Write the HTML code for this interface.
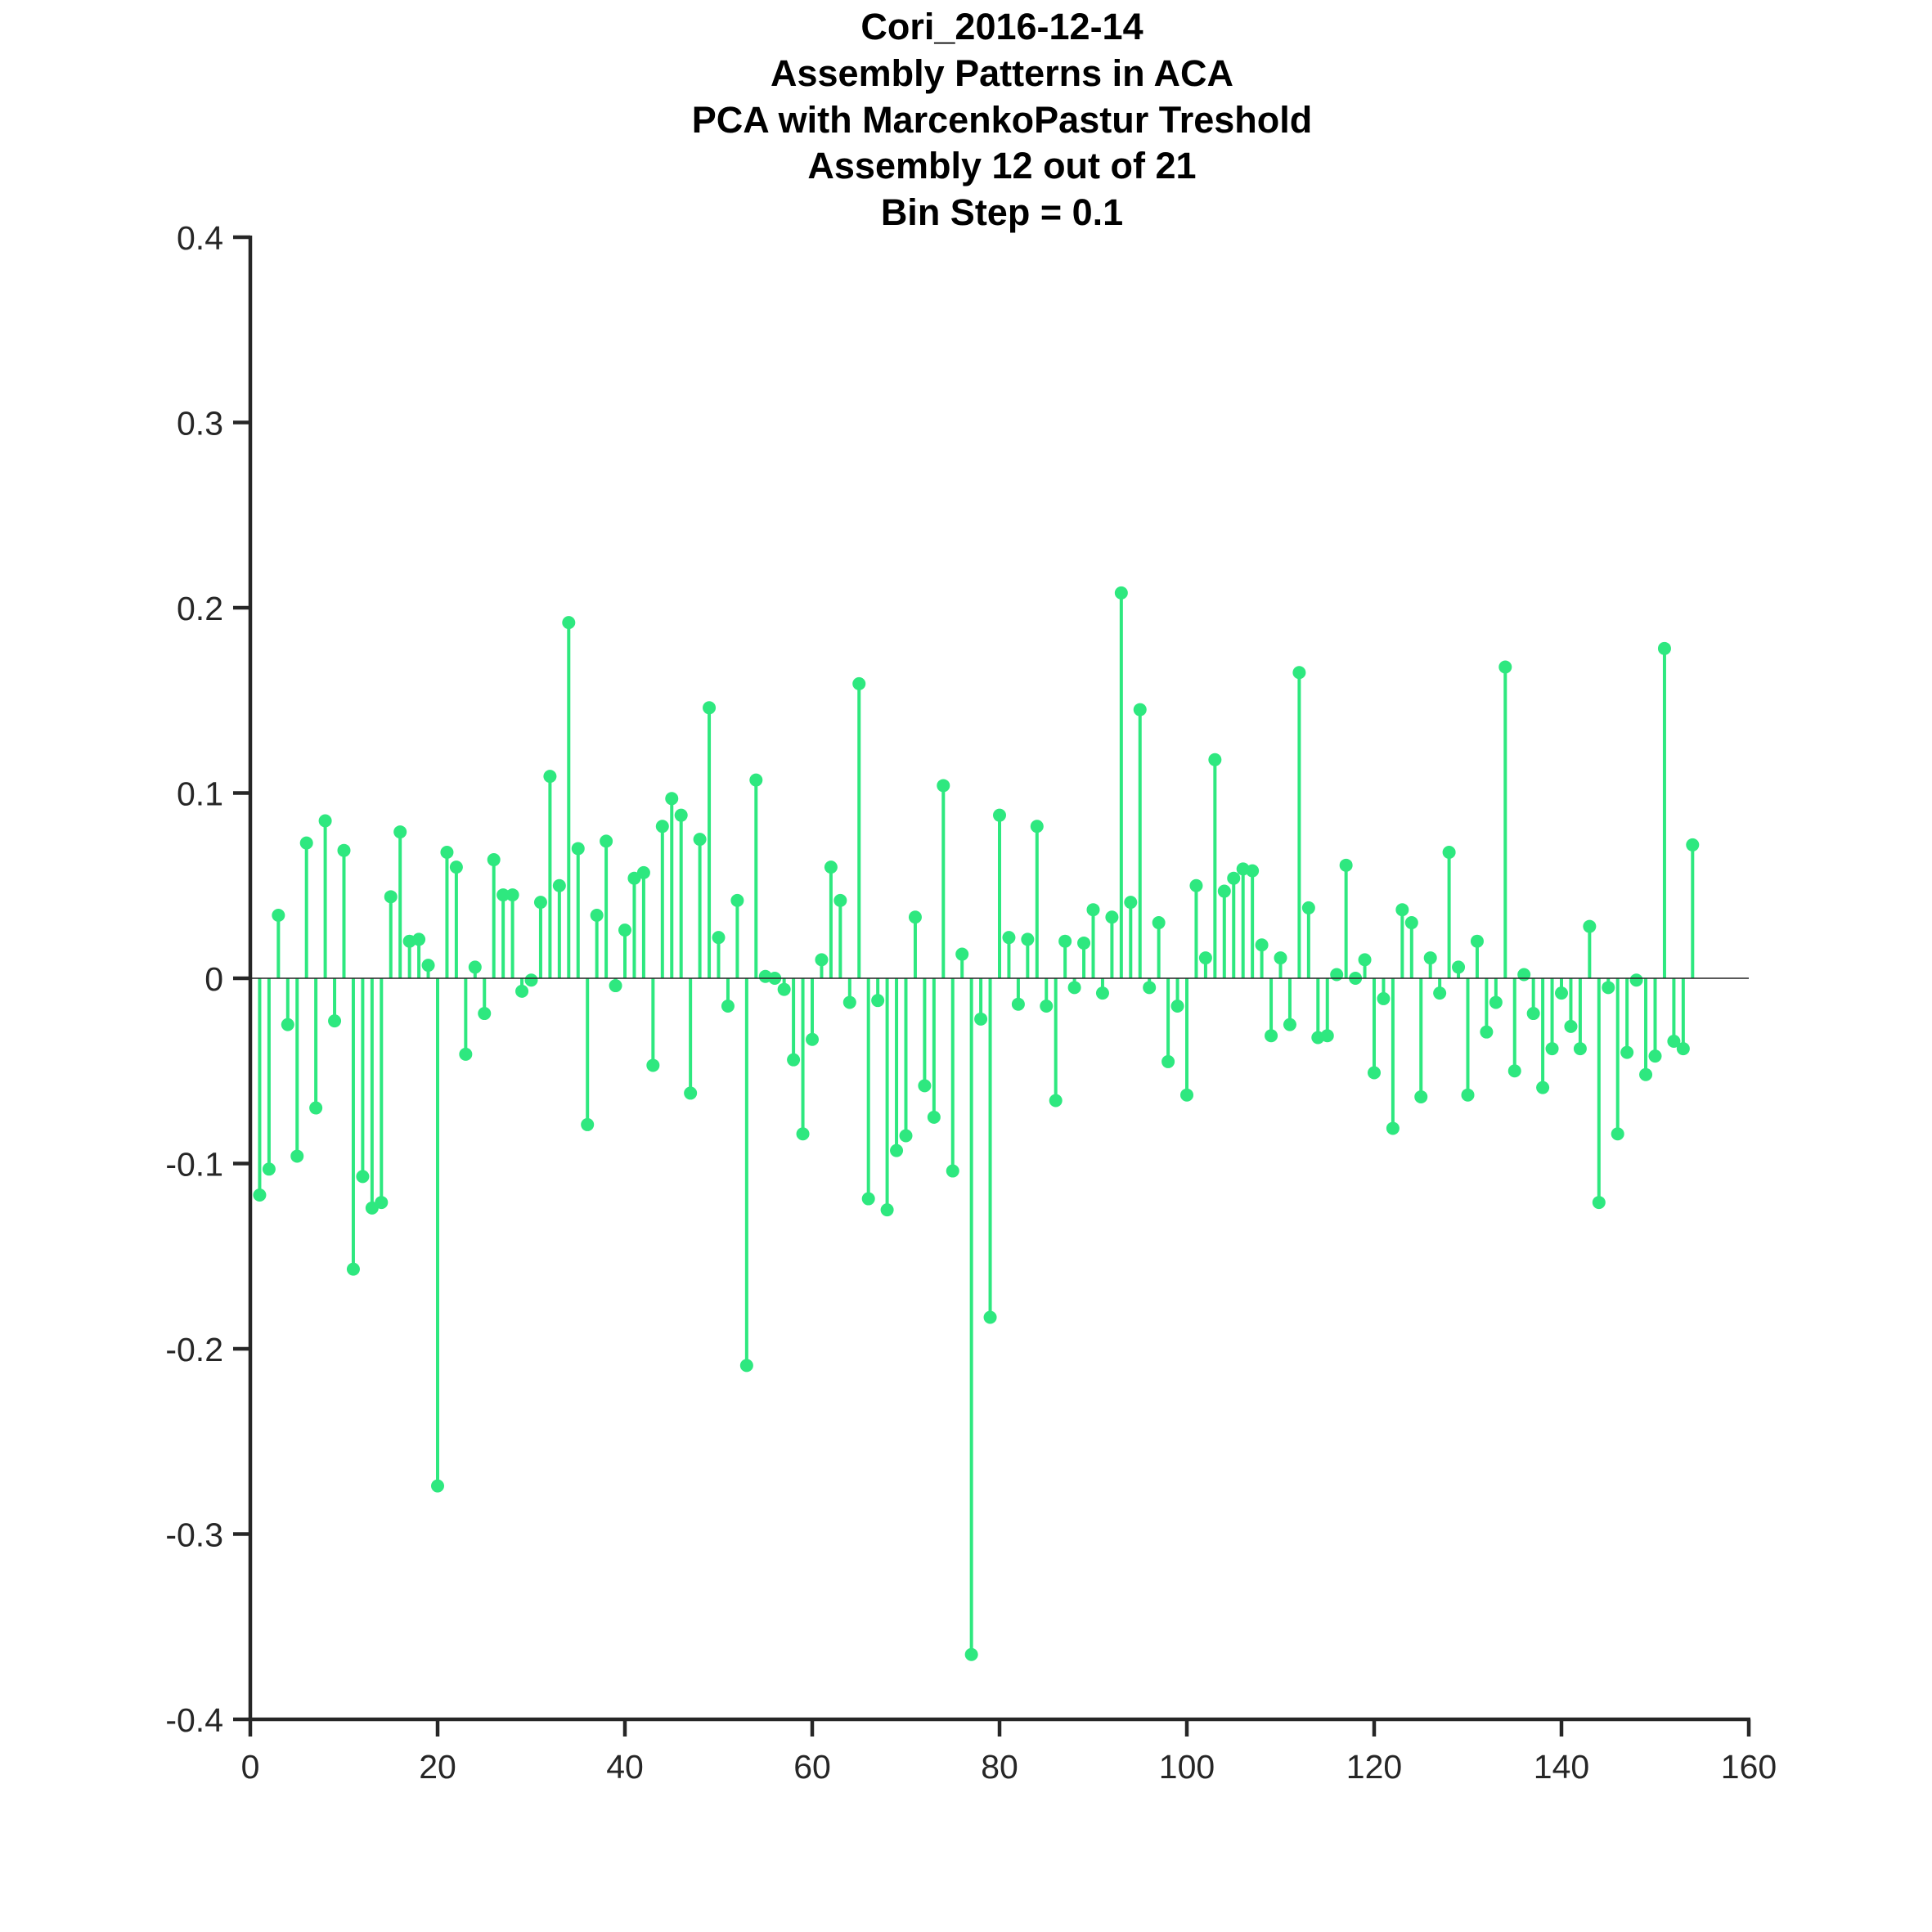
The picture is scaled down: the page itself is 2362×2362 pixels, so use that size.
<!DOCTYPE html>
<html><head><meta charset="utf-8"><style>
html,body{margin:0;padding:0;background:#fff;}
svg{display:block;}
text{font-family:"Liberation Sans",Arial,sans-serif;fill:#262626;}
</style></head><body>
<svg id="chart" width="2362" height="2362" viewBox="0 0 2362 2362" xmlns="http://www.w3.org/2000/svg">
<g font-weight="bold" font-size="45" text-anchor="middle" style="fill:#000">
<text x="1225" y="48" style="fill:#000">Cori_2016-12-14</text>
<text x="1225" y="105" style="fill:#000">Assembly Patterns in ACA</text>
<text x="1225" y="162" style="fill:#000">PCA with MarcenkoPastur Treshold</text>
<text x="1225" y="218" style="fill:#000">Assembly 12 out of 21</text>
<text x="1225" y="275" style="fill:#000">Bin Step = 0.1</text>
</g>
<g id="marks"></g>
<g id="axes"></g>
</svg>
<script>
const values = [-0.117,-0.103,0.034,-0.025,-0.096,0.073,-0.070,0.085,-0.023,0.069,
-0.157,-0.107,-0.124,-0.121,0.044,0.079,0.020,0.021,0.007,-0.274,
0.068,0.060,-0.041,0.006,-0.019,0.064,0.045,0.045,-0.007,-0.001,
0.041,0.109,0.050,0.192,0.070,-0.079,0.034,0.074,-0.004,0.026,
0.054,0.057,-0.047,0.082,0.097,0.088,-0.062,0.075,0.146,0.022,
-0.015,0.042,-0.209,0.107,0.001,0.000,-0.006,-0.044,-0.084,-0.033,
0.010,0.060,0.042,-0.013,0.159,-0.119,-0.012,-0.125,-0.093,-0.085,
0.033,-0.058,-0.075,0.104,-0.104,0.013,-0.365,-0.022,-0.183,0.088,
0.022,-0.014,0.021,0.082,-0.015,-0.066,0.020,-0.005,0.019,0.037,
-0.008,0.033,0.208,0.041,0.145,-0.005,0.030,-0.045,-0.015,-0.063,
0.050,0.011,0.118,0.047,0.054,0.059,0.058,0.018,-0.031,0.011,
-0.025,0.165,0.038,-0.032,-0.031,0.002,0.061,0.000,0.010,-0.051,
-0.011,-0.081,0.037,0.030,-0.064,0.011,-0.008,0.068,0.006,-0.063,
0.020,-0.029,-0.013,0.168,-0.050,0.002,-0.019,-0.059,-0.038,-0.008,
-0.026,-0.038,0.028,-0.121,-0.005,-0.084,-0.040,-0.001,-0.052,-0.042,
0.178,-0.034,-0.038,0.072];
const xTicks = [0,20,40,60,80,100,120,140,160];
const yTicks = [-0.4,-0.3,-0.2,-0.1,0,0.1,0.2,0.3,0.4];
const yTickLabels = ["-0.4","-0.3","-0.2","-0.1","0","0.1","0.2","0.3","0.4"];

const X0=306, X1=2138, Y0=2102, Y1=290;
const xs = v => X0 + (v-0)/(160-0)*(X1-X0);
const ys = v => Y0 - (v+0.4)/0.8*(Y0-Y1);
const NS="http://www.w3.org/2000/svg";
function mk(tag, attrs, parent){const e=document.createElementNS(NS,tag);for(const k in attrs)e.setAttribute(k,attrs[k]);parent.appendChild(e);return e;}
const marks=document.getElementById('marks');
const axes=document.getElementById('axes');
const col="#2ee87f";
values.forEach((v,i)=>{
  const x=xs(i+1);
  const st=mk('line',{x1:x,x2:x,y1:ys(0),y2:ys(v),stroke:col,'stroke-width':4},marks);
  
  
  const c=mk('circle',{cx:x,cy:ys(v),r:8,fill:col},marks);
  
  
});
const bl=mk('line',{x1:X0,x2:X1,y1:ys(0),y2:ys(0),stroke:'#222','stroke-width':1.5},marks);


const ya=mk('line',{x1:X0,x2:X0,y1:Y1-2,y2:Y0+2,stroke:'#262626','stroke-width':4.5},axes);


const xa=mk('line',{x1:X0-2,x2:X1+2,y1:Y0,y2:Y0,stroke:'#262626','stroke-width':4.5},axes);


yTicks.forEach((t,i)=>{
  const y=ys(t);
  const tk=mk('line',{x1:X0-21,x2:X0,y1:y,y2:y,stroke:'#262626','stroke-width':4.5},axes);
  
  
  const tx=mk('text',{x:X0-33,y:y+15,'font-size':41,'text-anchor':'end'},axes);
  tx.textContent=yTickLabels[i];
  
  
});
xTicks.forEach(t=>{
  const x=xs(t);
  const tk=mk('line',{x1:x,x2:x,y1:Y0,y2:Y0+21,stroke:'#262626','stroke-width':4.5},axes);
  
  
  const tx=mk('text',{x:x,y:Y0+72,'font-size':41,'text-anchor':'middle'},axes);
  tx.textContent=String(t);
  
  
});
</script>
</body></html>
